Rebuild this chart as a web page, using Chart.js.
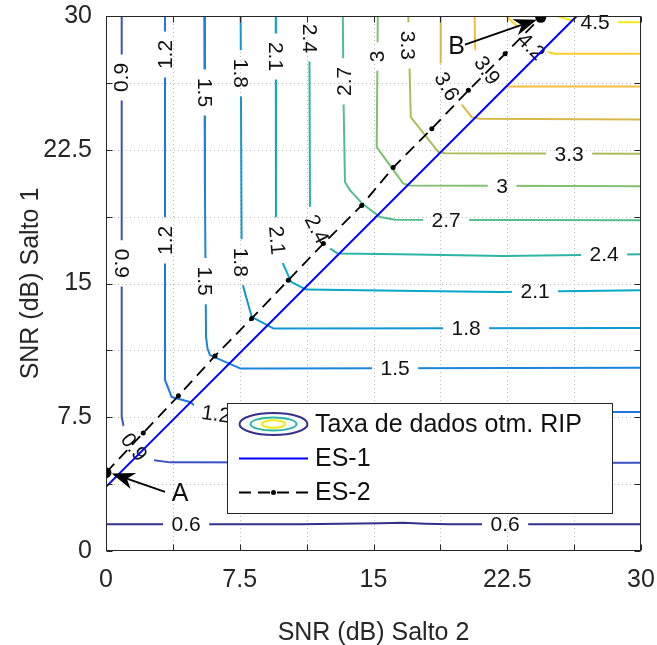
<!DOCTYPE html>
<html>
<head>
<meta charset="utf-8">
<script src="https://cdn.jsdelivr.net/npm/chart.js@4.4.1/dist/chart.umd.min.js"></script>
<style>
  html, body { margin: 0; padding: 0; background: #fff; }
  #wrap { width: 657px; height: 645px; }
</style>
</head>
<body>
<div id="wrap"><canvas id="c" width="657" height="645"></canvas></div>
<script>
const FONT = '"Liberation Sans", Arial, Helvetica, sans-serif';
const INK = '#262626';

// Axis ticks (dB), labelled every 7.5
const tickValues = [0, 3.75, 7.5, 11.25, 15, 18.75, 22.5, 26.25, 30];
const tickLabels = ['0', '', '7.5', '', '15', '', '22.5', '', '30'];

// Contour levels of the optimised RIP data rate
const contourLevels = [0.6, 0.9, 1.2, 1.5, 1.8, 2.1, 2.4, 2.7, 3.0, 3.3, 3.6, 3.9, 4.2, 4.5];

// Contour paths as [SNR hop 2, SNR hop 1] in dB
const rate06 = [[0, 1.50], [10.88, 1.50], [15.37, 1.55], [16.66, 1.58], [17.89, 1.53], [19.29, 1.50], [30, 1.50]];
const rate09 = [[0.88, 30], [0.88, 7.52], [1.01, 6.89], [1.16, 6.50], [2.28, 5.14], [3.59, 4.97], [10.88, 4.96], [19.29, 4.94], [30, 4.95]];
const rate12 = [[3.31, 30], [3.31, 9.58], [3.49, 9.13], [3.68, 8.64], [4.71, 8.36], [5.18, 7.99], [6.11, 7.80], [30, 7.80]];
const rate15 = [[5.51, 30], [5.55, 19.66], [5.61, 12.01], [5.69, 11.37], [5.83, 10.98], [7.52, 10.24], [8.64, 10.24], [30, 10.27]];
const rate18 = [[7.55, 30], [7.61, 15.56], [7.70, 14.81], [8.17, 13.13], [9.38, 12.48], [30, 12.51]];
const rate21 = [[9.52, 30], [9.53, 18.43], [9.72, 16.58], [10.38, 15.09], [11.22, 14.66], [16.49, 14.59], [22.10, 14.53], [30, 14.62]];
const rate24 = [[11.40, 30], [11.44, 19.20], [12.43, 17.05], [13.00, 16.68], [16.49, 16.64], [22.27, 16.54], [30, 16.64]];
const rate27 = [[13.28, 30], [13.32, 25.27], [13.40, 20.69], [13.69, 20.22], [14.41, 19.44], [15.37, 18.73], [16.21, 18.57], [30, 18.54]];
const rate30 = [[15.24, 30], [15.18, 22.65], [16.67, 20.60], [17.05, 20.50], [30, 20.46]];
const rate33 = [[16.95, 30], [17.09, 24.33], [18.64, 22.37], [19.01, 22.30], [30, 22.28]];
const rate36 = [[18.77, 30], [18.77, 26.85], [19.76, 25.27], [20.51, 24.33], [20.98, 24.24], [30, 24.20]];
const rate39 = [[20.67, 30], [20.70, 28.16], [20.88, 27.79], [21.72, 26.39], [22.47, 26.05], [30, 26.05]];
const rate42 = [[22.43, 30], [22.88, 29.58], [24.62, 28.01], [25.18, 27.88], [30, 27.88]];
const rate45 = [[25.28, 30], [26.21, 29.72], [27.15, 29.66], [30, 29.65]];
const contourPaths = [rate06, rate09, rate12, rate15, rate18, rate21, rate24, rate27, rate30, rate33, rate36, rate39, rate42, rate45];

// Operating curves
const es1X = [0, 26.4];
const es1Y = [3.6, 30];
const es2X = [0, 2.09, 4.06, 6.11, 8.17, 10.22, 12.19, 14.34, 16.1, 18.27, 20.32, 22.38, 24.38];
const es2Y = [4.39, 6.62, 8.70, 10.94, 13.04, 15.18, 17.24, 19.38, 21.5, 23.68, 25.83, 27.88, 29.93];

// Inline contour labels: level, SNR hop 2, SNR hop 1, text angle (deg, clockwise)
const labelSpots = [
  [0.6, 4.49, 1.48, 0], [0.6, 22.38, 1.48, 0],
  [0.9, 0.88, 26.55, -90], [0.9, 0.88, 16.13, 90], [0.9, 1.57, 5.83, 52],
  [1.2, 3.31, 27.84, -90], [1.2, 3.31, 17.42, -90], [1.2, 6.17, 7.68, 8],
  [1.5, 5.52, 25.71, 90], [1.5, 5.55, 15.13, 90], [1.5, 16.21, 10.25, 0],
  [1.8, 7.55, 26.78, 90], [1.8, 7.57, 16.19, 90], [1.8, 20.19, 12.49, 0],
  [2.1, 9.53, 27.73, 90], [2.1, 9.59, 17.42, 85], [2.1, 24.06, 14.57, 0],
  [2.4, 11.41, 28.74, 90], [2.4, 11.83, 18.04, 63], [2.4, 27.93, 16.64, 0],
  [2.7, 13.35, 26.33, -90], [2.7, 19.07, 18.54, 0],
  [3.0, 15.2, 27.73, -90], [3.0, 22.21, 20.45, 0],
  [3.3, 16.94, 28.35, 90], [3.3, 25.97, 22.24, 0],
  [3.6, 19.12, 26.05, 60],
  [3.9, 21.37, 26.95, 55],
  [4.2, 23.84, 28.29, 45],
  [4.5, 27.43, 29.64, 0]
];

// Point annotations: label text, label position, arrow tail, arrow tip (dB)
const annotations = [
  ['A', [4.15, 3.25], [3.31, 3.32], [0.32, 4.35]],
  ['B', [19.66, 28.29], [20.13, 28.40], [24.16, 29.79]]
];

// Line colours per level (parula)
const levelColors = ['#35308e', '#3c4fc4', '#1f77df', '#1a86db', '#1297d3', '#09a8c6', '#2cb5a6',
                     '#52bd8c', '#82bf70', '#aabd5a', '#d7b94b', '#f8bc3b', '#f8d12b', '#f2ea17'];

const LABEL_FONT = '21px ' + FONT;
const fmt = v => String(+v.toFixed(1));
const toPx = (chart, x, y) => [chart.scales.x.getPixelForValue(x), chart.scales.y.getPixelForValue(y)];

function labelBoxPath(ctx, cx, cy, w, h, deg) {
  const a = deg * Math.PI / 180, c = Math.cos(a), s = Math.sin(a);
  const pts = [[-w / 2, -h / 2], [w / 2, -h / 2], [w / 2, h / 2], [-w / 2, h / 2]]
    .map(([u, v]) => [cx + u * c - v * s, cy + u * s + v * c]);
  ctx.moveTo(pts[0][0], pts[0][1]);
  for (let i = 1; i < 4; i++) ctx.lineTo(pts[i][0], pts[i][1]);
  ctx.closePath();
}

function drawGrid(chart) {
  const {ctx, chartArea: ca} = chart;
  ctx.save();
  ctx.strokeStyle = '#bdbdbd';
  ctx.lineWidth = 1;
  ctx.setLineDash([1, 3]);
  tickValues.slice(1, -1).forEach(v => {
    const x = Math.round(chart.scales.x.getPixelForValue(v)) + 0.5;
    const y = Math.round(chart.scales.y.getPixelForValue(v)) + 0.5;
    ctx.beginPath(); ctx.moveTo(x, ca.top); ctx.lineTo(x, ca.bottom); ctx.stroke();
    ctx.beginPath(); ctx.moveTo(ca.left, y); ctx.lineTo(ca.right, y); ctx.stroke();
  });
  ctx.restore();
}

function drawContourLabels(chart) {
  const ctx = chart.ctx;
  ctx.save();
  ctx.font = LABEL_FONT;
  ctx.fillStyle = '#111';
  ctx.textAlign = 'center';
  ctx.textBaseline = 'middle';
  labelSpots.forEach(([lv, x, y, deg]) => {
    const [cx, cy] = toPx(chart, x, y);
    ctx.save();
    ctx.translate(cx, cy);
    ctx.rotate(deg * Math.PI / 180);
    ctx.fillText(fmt(lv), 0, 1);
    ctx.restore();
  });
  ctx.restore();
}

function drawArrow(ctx, x0, y0, x1, y1) {
  const ang = Math.atan2(y1 - y0, x1 - x0);
  const L = 23, W = 8.5, N = 16;
  const c = Math.cos(ang), s = Math.sin(ang);
  const P = (u, v) => [x1 + u * c - v * s, y1 + u * s + v * c];
  ctx.beginPath();
  ctx.moveTo(x0, y0);
  const nb = P(-N, 0);
  ctx.lineTo(nb[0], nb[1]);
  ctx.stroke();
  ctx.beginPath();
  const p1 = P(-L, -W), p2 = P(-N, 0), p3 = P(-L, W);
  ctx.moveTo(x1, y1); ctx.lineTo(p1[0], p1[1]); ctx.lineTo(p2[0], p2[1]); ctx.lineTo(p3[0], p3[1]);
  ctx.closePath();
  ctx.fill();
}

function drawAnnotations(chart) {
  const ctx = chart.ctx;
  ctx.save();
  ctx.strokeStyle = '#000';
  ctx.fillStyle = '#000';
  ctx.lineWidth = 1.8;
  ctx.font = '25px ' + FONT;
  ctx.textAlign = 'center';
  ctx.textBaseline = 'middle';
  annotations.forEach(([txt, lp, tail, tip]) => {
    const [lx, ly] = toPx(chart, lp[0], lp[1]);
    const [tx, ty] = toPx(chart, tail[0], tail[1]);
    const [hx, hy] = toPx(chart, tip[0], tip[1]);
    drawArrow(ctx, tx, ty, hx, hy);
    ctx.fillStyle = '#111';
    ctx.fillText(txt, lx, ly + 1);
    ctx.fillStyle = '#000';
  });
  ctx.restore();
}

function drawLegend(chart) {
  const {ctx, chartArea: ca} = chart;
  const L = ca.left + 121, T = ca.top + 387, W = 385, H = 110;
  const ds = chart.data.datasets;
  ctx.save();
  ctx.fillStyle = '#fff';
  ctx.fillRect(L, T, W, H);
  ctx.strokeStyle = INK;
  ctx.lineWidth = 1;
  ctx.strokeRect(Math.round(L) + 0.5, Math.round(T) + 0.5, W, H);
  const rows = [T + 21, T + 55.5, T + 89.5];
  const sx0 = L + 12, sx1 = L + 81, mid = (sx0 + sx1) / 2;
  // contour icon: nested ellipses
  [[34, 11, levelColors[0]], [23, 6.5, levelColors[6]], [11.5, 3.8, levelColors[13]]].forEach(([rx, ry, col]) => {
    ctx.beginPath();
    ctx.ellipse(mid, rows[0], rx, ry, 0, 0, Math.PI * 2);
    ctx.strokeStyle = col;
    ctx.lineWidth = 2;
    ctx.stroke();
  });
  const es1 = ds.find(d => d.id === 'es1'), es2 = ds.find(d => d.id === 'es2');
  ctx.beginPath();
  ctx.moveTo(sx0, rows[1]); ctx.lineTo(sx1, rows[1]);
  ctx.strokeStyle = es1.borderColor; ctx.lineWidth = es1.borderWidth; ctx.stroke();
  ctx.beginPath();
  ctx.setLineDash(es2.borderDash);
  ctx.moveTo(sx0, rows[2]); ctx.lineTo(sx1, rows[2]);
  ctx.strokeStyle = '#000'; ctx.lineWidth = es2.borderWidth; ctx.stroke();
  ctx.setLineDash([]);
  ctx.beginPath(); ctx.arc(mid, rows[2], 2.5, 0, Math.PI * 2); ctx.fillStyle = '#000'; ctx.fill();
  ctx.fillStyle = '#111';
  ctx.font = '25px ' + FONT;
  ctx.textAlign = 'left';
  ctx.textBaseline = 'middle';
  const contourLabel = ds.find(d => d.level !== undefined && d.label).label;
  [contourLabel, es1.label, es2.label].forEach((t, i) => ctx.fillText(t, L + 88, rows[i] + 1));
  ctx.restore();
}

function drawFrame(chart) {
  const {ctx, chartArea: ca} = chart;
  const l = Math.round(ca.left) + 0.5, r = Math.round(ca.right) - 0.5;
  const t = Math.round(ca.top) + 0.5, b = Math.round(ca.bottom) - 0.5;
  ctx.save();
  ctx.strokeStyle = INK;
  ctx.lineWidth = 1;
  ctx.strokeRect(l, t, r - l, b - t);
  const T = 6;
  ctx.beginPath();
  tickValues.forEach(v => {
    const x = Math.round(chart.scales.x.getPixelForValue(v)) + 0.5;
    const y = Math.round(chart.scales.y.getPixelForValue(v)) + 0.5;
    ctx.moveTo(x, b); ctx.lineTo(x, b - T);
    ctx.moveTo(x, t); ctx.lineTo(x, t + T);
    ctx.moveTo(l, y); ctx.lineTo(l + T, y);
    ctx.moveTo(r, y); ctx.lineTo(r - T, y);
  });
  ctx.stroke();
  ctx.restore();
}

const decor = {
  id: 'contourDecor',
  beforeDatasetsDraw(chart) { drawGrid(chart); },
  beforeDatasetDraw(chart, args) {
    const ds = chart.data.datasets[args.index];
    const ctx = chart.ctx;
    if (ds.level !== undefined) {
      // break each contour where its own labels sit
      ctx.save();
      ctx.font = LABEL_FONT;
      ctx.beginPath();
      ctx.rect(0, 0, chart.width, chart.height);
      labelSpots.filter(s => s[0] === ds.level).forEach(([lv, x, y, deg]) => {
        const [cx, cy] = toPx(chart, x, y);
        const w = ctx.measureText(fmt(lv)).width + 17;
        labelBoxPath(ctx, cx, cy, w, 16, deg);
      });
      ctx.clip('evenodd');
    }
    if (ds.id === 'es1') drawContourLabels(chart);
  },
  afterDatasetDraw(chart, args) {
    if (chart.data.datasets[args.index].level !== undefined) chart.ctx.restore();
  },
  afterDatasetsDraw(chart) {
    drawAnnotations(chart);
    drawLegend(chart);
    drawFrame(chart);
  }
};

const contourDatasets = contourLevels.map((lv, i) => ({
  label: i === 0 ? 'Taxa de dados otm. RIP' : '',
  level: lv,
  data: contourPaths[i].map(([x, y]) => ({x, y})),
  borderColor: levelColors[i],
  borderWidth: 2,
  borderJoinStyle: 'round',
  pointRadius: 0,
  order: 2
}));

const es1Dataset = {
  id: 'es1',
  label: 'ES-1',
  data: es1X.map((x, i) => ({x, y: es1Y[i]})),
  borderColor: '#0000ff',
  borderWidth: 2,
  pointRadius: 0,
  order: 1
};

const es2Dataset = {
  id: 'es2',
  label: 'ES-2',
  data: es2X.map((x, i) => ({x, y: es2Y[i]})),
  borderColor: '#000',
  borderWidth: 1.8,
  borderDash: [12, 7],
  pointRadius: c => (c.dataIndex === 0 || c.dataIndex === es2X.length - 1) ? 5.5 : 2.5,
  pointBackgroundColor: '#000',
  pointBorderWidth: 0,
  order: 0
};

const tickFont = {family: FONT, size: 25};

new Chart(document.getElementById('c').getContext('2d'), {
  type: 'line',
  data: {datasets: [es2Dataset, es1Dataset, ...contourDatasets]},
  options: {
    responsive: false,
    animation: false,
    events: [],
    devicePixelRatio: 1,
    layout: {padding: {top: 16, right: 16, left: 0, bottom: 0}},
    plugins: {legend: {display: false}, tooltip: {enabled: false}},
    elements: {line: {tension: 0, fill: false}},
    scales: {
      x: {
        type: 'linear', min: 0, max: 30,
        afterBuildTicks: ax => { ax.ticks = tickValues.map(v => ({value: v})); },
        afterFit: ax => { ax.height = 94; ax.paddingLeft = 0; ax.paddingRight = 0; },
        ticks: {callback: (v, i) => tickLabels[i], font: tickFont, color: INK, padding: 14, maxRotation: 0, autoSkip: false},
        grid: {display: false, drawTicks: false},
        border: {display: false},
        title: {display: true, text: 'SNR (dB) Salto 2', font: tickFont, color: INK, padding: {top: 0, bottom: -3}}
      },
      y: {
        type: 'linear', min: 0, max: 30,
        afterBuildTicks: ax => { ax.ticks = tickValues.map(v => ({value: v})); },
        afterFit: ax => { ax.width = 106; ax.paddingTop = 0; ax.paddingBottom = 0; },
        ticks: {callback: (v, i) => tickLabels[i], font: tickFont, color: INK, padding: 14, autoSkip: false},
        grid: {display: false, drawTicks: false},
        border: {display: false},
        title: {display: true, text: 'SNR (dB) Salto 1', font: tickFont, color: INK, padding: {top: 16, bottom: 0}}
      }
    }
  },
  plugins: [decor]
});
</script>
</body>
</html>
